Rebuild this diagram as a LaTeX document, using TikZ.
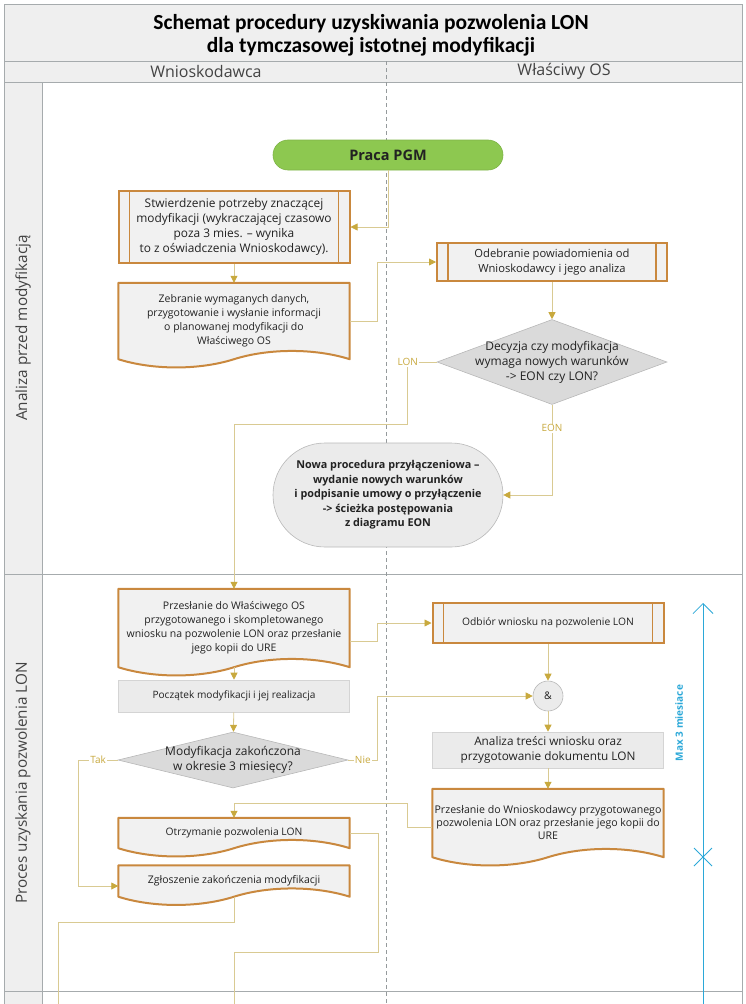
\documentclass[tikz,border=0pt]{standalone}
\usepackage{fontspec}
\setmainfont{Open Sans}
\newfontfamily\titlefont{Carlito}
\usetikzlibrary{arrows.meta, positioning, shapes.geometric, calc, backgrounds}
\definecolor{corange}{HTML}{C9883E}
\definecolor{cgold}{HTML}{C8A93E}
\definecolor{cline}{HTML}{D9CA92}
\definecolor{cfill}{HTML}{F1F1F1}
\definecolor{cbox}{HTML}{EBEBEB}
\definecolor{cboxline}{HTML}{D4D4D4}
\definecolor{cdiam}{HTML}{DADADA}
\definecolor{cdiamline}{HTML}{B8B8B8}
\definecolor{cgreen}{HTML}{8DC850}
\definecolor{cblue}{HTML}{2BA8D8}
\definecolor{cframe}{HTML}{A6ABAD}
\definecolor{clane}{HTML}{EFEFEF}
\definecolor{ctext}{HTML}{222222}
\tikzset{
  every picture/.style={x=1pt, y=-1pt, font=\fontsize{10.5}{14}\selectfont, text=ctext},
  subproc/.style={draw=corange, fill=cfill, line width=2pt, minimum width=231pt, minimum height=#1, align=center, inner sep=2pt,
    path picture={\draw[corange, line width=1.6pt] ([xshift=11pt]path picture bounding box.north west) -- ([xshift=11pt]path picture bounding box.south west)
      ([xshift=-11pt]path picture bounding box.north east) -- ([xshift=-11pt]path picture bounding box.south east);}},
  doc/.style={minimum width=231pt, minimum height=#1, align=center, inner sep=2pt},
  process/.style={draw=cboxline, fill=cbox, line width=0.6pt, minimum width=231pt, minimum height=#1, align=center},
  decision/.style={diamond, draw=cdiamline, fill=cdiam, line width=0.6pt, inner sep=-8pt, align=center, font=\fontsize{12}{15}\selectfont},
  terminal/.style={rectangle, rounded corners=#1, align=center},
  flow/.style={draw=cline, line width=0.8pt, -{Triangle[length=7pt, width=7pt, color=cgold]}},
  link/.style={draw=cline, line width=0.8pt},
  lbl/.style={fill=white, text=cgold, inner sep=1pt, font=\fontsize{10}{12}\selectfont},
  lane/.style={font=\fontsize{16}{19}\selectfont, text=ctext!85},
}
% document shape: flat top, wavy bottom, drawn behind the node text
\newcommand{\docshape}[1]{%
  \begin{scope}[on background layer]
    \path[draw=corange, fill=cfill, line width=2pt, line join=round]
      let \p1=(#1.south west), \p2=(#1.north east), \n1={\x2-\x1} in
      (\x1,\y2) -- (\x2,\y2) -- (\x2,\y1)
      .. controls (\x2-0.15*\n1,\y1+11pt) and (\x2-0.35*\n1,\y1+11pt) .. (\x1+0.5*\n1,\y1)
      .. controls (\x1+0.35*\n1,\y1-11pt) and (\x1+0.15*\n1,\y1-11pt) .. (\x1,\y1) -- cycle;
  \end{scope}}

\begin{document}
\begin{tikzpicture}
  \useasboundingbox (0,0) rectangle (746,1004);
  % swimlanes
  \fill[clane] (4,4) rectangle (742,82);
  \fill[clane] (4,82) rectangle (42,1004);
  \draw[cframe, line width=0.8pt] (4,1004) -- (4,4) -- (742,4) -- (742,1004);
  \draw[cframe, line width=0.8pt] (4,61) -- (742,61) (4,82) -- (742,82) (4,574) -- (742,574) (4,991) -- (742,991) (42,82) -- (42,1004);
  \draw[cframe!90!black, dash pattern=on 4pt off 3pt, line width=0.8pt] (386,61) -- (386,1004);
  \node[font={\titlefont\bfseries\fontsize{21.5}{23}\selectfont}, align=center, text=black] (title) at (371,35) {Schemat procedury uzyskiwania pozwolenia LON\\dla tymczasowej istotnej modyfikacji};
  \node[lane] (laneA) at (206,71) {Wnioskodawca};
  \node[lane] (laneB) at (564,71) {Właściwy OS};
  \node[lane, font=\fontsize{15.3}{18}\selectfont, rotate=90] (phaseA) at (23,328) {Analiza przed modyfikacją};
  \node[lane, font=\fontsize{15.3}{18}\selectfont, rotate=90] (phaseB) at (23,783) {Proces uzyskania pozwolenia LON};

  % analysis before the modification
  \node[terminal=14.9pt, fill=cgreen, draw=cgreen!90!black, line width=0.6pt, minimum width=230pt, minimum height=30pt, font=\bfseries\fontsize{14.5}{16}\selectfont] (pgm) at (388,155) {Praca PGM};
  \node[subproc=72pt, font=\fontsize{11.9}{15}\selectfont] (need) at (234,227) {Stwierdzenie potrzeby znaczącej\\modyfikacji (wykraczającej czasowo\\poza 3 mies. – wynika\\to z oświadczenia Wnioskodawcy).};
  \node[doc=76pt] (collect) at (234,321) {Zebranie wymaganych danych,\\przygotowanie i wysłanie informacji\\o planowanej modyfikacji do\\Właściwego OS};
  \docshape{collect}
  \node[subproc=38pt, minimum width=230pt, font=\fontsize{11.2}{15}\selectfont] (receive) at (552,262) {Odebranie powiadomienia od\\Wnioskodawcy i jego analiza};
  \node[decision, aspect=2.7, minimum width=230pt, minimum height=85pt] (decide) at (552,362) {Decyzja czy modyfikacja\\wymaga nowych warunków\\-> EON czy LON?};
  \node[terminal=51.9pt, fill=cbox, draw=cdiamline, line width=0.6pt, minimum width=230pt, minimum height=104pt, font=\bfseries\fontsize{10.8}{14.5}\selectfont] (newproc) at (388,495) {Nowa procedura przyłączeniowa –\\wydanie nowych warunków\\i podpisanie umowy o przyłączenie\\-> ścieżka postępowania\\z diagramu EON};

  % obtaining the LON permit
  \node[doc=78pt] (sendreq) at (234,628) {Przesłanie do Właściwego OS\\przygotowanego i skompletowanego\\wniosku na pozwolenie LON oraz przesłanie\\jego kopii do URE};
  \docshape{sendreq}
  \node[process=32pt, font=\fontsize{10.1}{13}\selectfont] (start) at (234,696) {Początek modyfikacji i jej realizacja};
  \node[decision, aspect=4.1, minimum width=230pt, minimum height=56pt] (done) at (233,760) {Modyfikacja zakończona\\w okresie 3 miesięcy?};
  \node[subproc=40pt, font=\fontsize{10.3}{13}\selectfont] (getreq) at (548,623) {Odbiór wniosku na pozwolenie LON};
  \node[circle, draw=cdiamline, fill=cbox, line width=0.6pt, minimum size=30pt, inner sep=0pt] (join) at (548,696) {\&};
  \node[process=36pt, font=\fontsize{11.8}{15}\selectfont] (analyse) at (548,750) {Analiza treści wniosku oraz\\przygotowanie dokumentu LON};
  \node[doc=68pt, font=\fontsize{10.6}{13}\selectfont] (sendlon) at (548,823) {Przesłanie do Wnioskodawcy przygotowanego\\pozwolenia LON oraz przesłanie jego kopii do\\URE};
  \docshape{sendlon}
  \node[doc=30pt, font=\fontsize{10.3}{13}\selectfont] (gotlon) at (234,833) {Otrzymanie pozwolenia LON};
  \docshape{gotlon}
  \node[doc=31pt] (report) at (234,881) {Zgłoszenie zakończenia modyfikacji};
  \docshape{report}
  \coordinate (exitA) at (234,1004);
  \coordinate (exitB) at (58,1004);

  % connectors
  \draw[flow] (pgm.south) |- (need.east);
  \draw[flow] (need) -- (collect);
  \draw[flow] (collect.east) -- ++(28,0) |- (receive.west);
  \draw[flow] (receive) -- (decide);
  \draw[flow] (decide.west) -- ++(-29,0) node[lbl] {LON} -- ++(0,62) -| (sendreq.north);
  \draw[flow] (decide.south) |- node[lbl, pos=0.13] {EON} (newproc.east);
  \draw[flow] (sendreq) -- (start);
  \draw[flow] ([yshift=-13pt]sendreq.east) -- ++(28,0) |- (getreq.west);
  \draw[flow] (start) -- (done);
  \draw[flow] (done.west) -- node[lbl] {Tak} ++(-39,0) |- ([yshift=-5pt]report.west);
  \draw[flow] (done.east) -- node[lbl] {Nie} ++(29,0) |- (join.west);
  \draw[flow] (getreq) -- (join);
  \draw[flow] (join) -- (analyse);
  \draw[flow] (analyse) -- (sendlon);
  \draw[flow] ([yshift=-4pt]sendlon.west) -- ++(-25,0) -- ++(0,-24) -| (gotlon.north);
  \draw[link] (gotlon.east) -| ++(29,119) -| (exitA);
  \draw[link] (report.south) -- ++(0,26) -| (exitB);

  % time limit
  \coordinate (mxtop) at (703,603);
  \coordinate (mxbot) at (703,1004);
  \coordinate (mxcross) at (703,857);
  \draw[cblue, line width=0.8pt, -{Straight Barb[length=10pt, width=20pt, line width=0.8pt]}] (mxbot) -- (mxtop);
  \draw[cblue, line width=0.8pt] ([shift={(-9,-9)}]mxcross) -- ([shift={(9,9)}]mxcross) ([shift={(-9,9)}]mxcross) -- ([shift={(9,-9)}]mxcross);
  \node[rotate=90, text=cblue, font=\bfseries\fontsize{10}{12}\selectfont] (maxlbl) at (679,723) {Max 3 miesiace};
\end{tikzpicture}
\end{document}
